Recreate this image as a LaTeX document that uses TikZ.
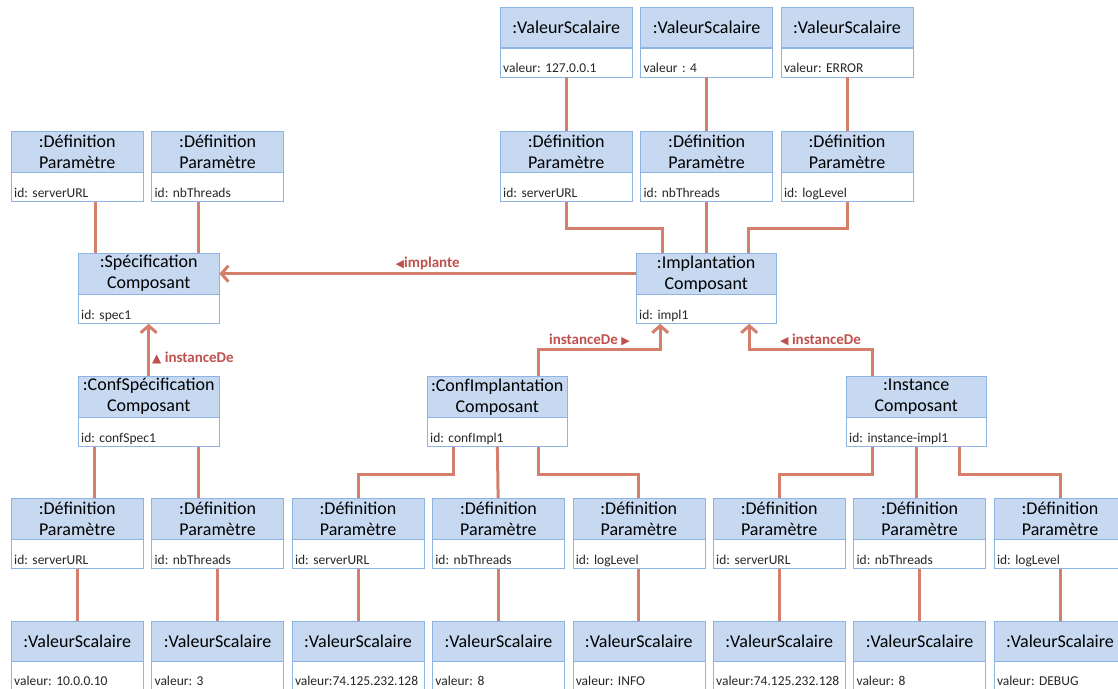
\documentclass[tikz,border=0pt]{standalone}
\usepackage{fontspec}
\setmainfont{Carlito}
\newfontfamily\symfont{DejaVu Sans}
\usetikzlibrary{arrows.meta, positioning, calc}
\definecolor{objblue}{HTML}{C6D9F1}
\definecolor{objblueborder}{HTML}{8DB4E2}
\definecolor{linkred}{HTML}{D47F6C}
\definecolor{labelred}{HTML}{C0504D}
\frenchspacing

\begin{document}
\begin{tikzpicture}[x=1pt, y=-1pt,
      head/.style={draw=objblueborder, fill=objblue, minimum width=#1,
        minimum height=41pt, inner sep=1pt, align=center,
        font={\fontsize{18}{21}\selectfont}},
      head/.default=132pt,
      valhead/.style={head, minimum height=40pt},
      attr/.style={draw=objblueborder, fill=white, text width=#1,
        align=left, inner xsep=3pt, inner ysep=2.5pt, text height=22pt,
        text depth=2pt, text=black!85,
        font={\fontsize{13.5}{15}\selectfont}},
      attr/.default=126pt,
      link/.style={draw=linkred, line width=3pt},
      assoc/.style={link, -{Straight Barb[length=7pt, width=16pt]}},
      lbl/.style={text=labelred, inner sep=2pt,
        font={\fontsize{15}{17}\selectfont\bfseries}},
      node distance=8pt
    ]
      \useasboundingbox (0,0) rectangle (1118,688);

      % specification side
      \node[head, anchor=north west] (defSpecA) at (11,131)
        {:Définition\\Paramètre};
      \node[attr, below=0pt of defSpecA] (defSpecA-a) {id: serverURL};
      \node[head, right=of defSpecA] (defSpecB) {:Définition\\Paramètre};
      \node[attr, below=0pt of defSpecB] (defSpecB-a) {id: nbThreads};
      \node[head=141pt, anchor=north west] (spec) at (78,253)
        {:Spécification\\Composant};
      \node[attr=135pt, below=0pt of spec] (spec-a) {id: spec1};

      % implantation side
      \node[head, anchor=north west] (defImplA) at (500,131)
        {:Définition\\Paramètre};
      \node[attr, below=0pt of defImplA] (defImplA-a) {id: serverURL};
      \node[head, right=of defImplA] (defImplB) {:Définition\\Paramètre};
      \node[attr, below=0pt of defImplB] (defImplB-a) {id: nbThreads};
      \node[head, right=of defImplB] (defImplC) {:Définition\\Paramètre};
      \node[attr, below=0pt of defImplC] (defImplC-a) {id: logLevel};
      \node[attr, above=54pt of defImplA] (valImplA-a) {valeur: 127.0.0.1};
      \node[valhead, above=0pt of valImplA-a] (valImplA) {:ValeurScalaire};
      \node[attr, above=54pt of defImplB] (valImplB-a) {valeur : 4};
      \node[valhead, above=0pt of valImplB-a] (valImplB) {:ValeurScalaire};
      \node[attr, above=54pt of defImplC] (valImplC-a) {valeur: ERROR};
      \node[valhead, above=0pt of valImplC-a] (valImplC) {:ValeurScalaire};
      \node[head=140pt, anchor=north west] (impl) at (636,253)
        {:Implantation\\Composant};
      \node[attr=134pt, below=0pt of impl] (impl-a) {id: impl1};

      % configurations and instance
      \node[head=141pt, anchor=north west] (confSpec) at (78,376)
        {:ConfSpécification\\Composant};
      \node[attr=135pt, below=0pt of confSpec] (confSpec-a) {id: confSpec1};
      \node[head=140pt, anchor=north west] (confImpl) at (427,376)
        {:ConfImplantation\\Composant};
      \node[attr=134pt, below=0pt of confImpl] (confImpl-a) {id: confImpl1};
      \node[head=140pt, anchor=north west] (inst) at (846,376)
        {:Instance\\Composant};
      \node[attr=134pt, below=0pt of inst] (inst-a) {id: instance-impl1};

      % bottom row of definitions
      \node[head, anchor=north west] (defCsA) at (11,498)
        {:Définition\\Paramètre};
      \node[attr, below=0pt of defCsA] (defCsA-a) {id: serverURL};
      \node[head, right=of defCsA] (defCsB) {:Définition\\Paramètre};
      \node[attr, below=0pt of defCsB] (defCsB-a) {id: nbThreads};
      \node[head, right=of defCsB] (defCiA) {:Définition\\Paramètre};
      \node[attr, below=0pt of defCiA] (defCiA-a) {id: serverURL};
      \node[head, right=of defCiA] (defCiB) {:Définition\\Paramètre};
      \node[attr, below=0pt of defCiB] (defCiB-a) {id: nbThreads};
      \node[head, right=of defCiB] (defCiC) {:Définition\\Paramètre};
      \node[attr, below=0pt of defCiC] (defCiC-a) {id: logLevel};
      \node[head, right=of defCiC] (defInA) {:Définition\\Paramètre};
      \node[attr, below=0pt of defInA] (defInA-a) {id: serverURL};
      \node[head, right=of defInA] (defInB) {:Définition\\Paramètre};
      \node[attr, below=0pt of defInB] (defInB-a) {id: nbThreads};
      \node[head, right=of defInB] (defInC) {:Définition\\Paramètre};
      \node[attr, below=0pt of defInC] (defInC-a) {id: logLevel};

      % bottom row of values
      \node[valhead, below=52pt of defCsA-a] (valCsA) {:ValeurScalaire};
      \node[attr, below=0pt of valCsA] (valCsA-a) {valeur: 10.0.0.10};
      \node[valhead, below=52pt of defCsB-a] (valCsB) {:ValeurScalaire};
      \node[attr, below=0pt of valCsB] (valCsB-a) {valeur: 3};
      \node[valhead, below=52pt of defCiA-a] (valCiA) {:ValeurScalaire};
      \node[attr, below=0pt of valCiA] (valCiA-a) {valeur:74.125.232.128};
      \node[valhead, below=52pt of defCiB-a] (valCiB) {:ValeurScalaire};
      \node[attr, below=0pt of valCiB] (valCiB-a) {valeur: 8};
      \node[valhead, below=52pt of defCiC-a] (valCiC) {:ValeurScalaire};
      \node[attr, below=0pt of valCiC] (valCiC-a) {valeur: INFO};
      \node[valhead, below=52pt of defInA-a] (valInA) {:ValeurScalaire};
      \node[attr, below=0pt of valInA] (valInA-a) {valeur:74.125.232.128};
      \node[valhead, below=52pt of defInB-a] (valInB) {:ValeurScalaire};
      \node[attr, below=0pt of valInB] (valInB-a) {valeur: 8};
      \node[valhead, below=52pt of defInC-a] (valInC) {:ValeurScalaire};
      \node[attr, below=0pt of valInC] (valInC-a) {valeur: DEBUG};

      % links
      \draw[link] ([xshift=18pt]defSpecA-a.south)
        -- ([xshift=18pt]defSpecA-a.south |- spec.north);
      \draw[link] ([xshift=-19pt]defSpecB-a.south)
        -- ([xshift=-19pt]defSpecB-a.south |- spec.north);
      \draw[link] (valImplA-a) -- (defImplA);
      \draw[link] (valImplB-a) -- (defImplB);
      \draw[link] (valImplC-a) -- (defImplC);
      \draw[link] (defImplA-a.south) -- ++(0,27) -| ([xshift=-44pt]impl.north);
      \draw[link] (defImplB-a.south) -- (defImplB-a.south |- impl.north);
      \draw[link] (defImplC-a.south) -- ++(0,27) -| ([xshift=42pt]impl.north);
      \draw[link] ([xshift=17pt]defCsA.north)
        -- ([xshift=17pt]defCsA.north |- confSpec-a.south);
      \draw[link] ([xshift=-19pt]defCsB.north)
        -- ([xshift=-19pt]defCsB.north |- confSpec-a.south);
      \draw[link] ([xshift=-44pt]confImpl-a.south) -- ++(0,28) -| (defCiA);
      \draw[link] (confImpl-a) -- (defCiB);
      \draw[link] ([xshift=41pt]confImpl-a.south) -- ++(0,28) -| (defCiC);
      \draw[link] ([xshift=-44pt]inst-a.south) -- ++(0,28) -| (defInA);
      \draw[link] (inst-a.south) -- (inst-a.south |- defInB.north);
      \draw[link] ([xshift=43pt]inst-a.south) -- ++(0,28) -| (defInC);
      \draw[link] (defCsA-a) -- (valCsA);
      \draw[link] (defCsB-a) -- (valCsB);
      \draw[link] (defCiA-a) -- (valCiA);
      \draw[link] (defCiB-a) -- (valCiB);
      \draw[link] (defCiC-a) -- (valCiC);
      \draw[link] (defInA-a) -- (valInA);
      \draw[link] (defInB-a) -- (valInB);
      \draw[link] (defInC-a) -- (valInC);

      % associations
      \draw[assoc] (impl) -- node[lbl, above] (lblImplante)
        {{\symfont\fontsize{11}{11}\selectfont ◀}implante} (spec);
      \draw[assoc] (confSpec) -- node[lbl, right, pos=0.35] (lblConfSpec)
        {{\symfont\fontsize{12}{12}\selectfont ▲} instanceDe} (spec-a);
      \draw[assoc] ([xshift=41pt]confImpl.north) -- ++(0,-27)
        -| node[lbl, above, pos=0.21] (lblConfImpl)
        {instanceDe {\symfont\fontsize{11}{11}\selectfont ▶}}
        ([xshift=-46pt]impl-a.south);
      \draw[assoc] ([xshift=-44pt]inst.north) -- ++(0,-27)
        -| node[lbl, above, pos=0.21] (lblInst)
        {{\symfont\fontsize{11}{11}\selectfont ◀} instanceDe}
        ([xshift=43pt]impl-a.south);
    \end{tikzpicture}
\end{document}
